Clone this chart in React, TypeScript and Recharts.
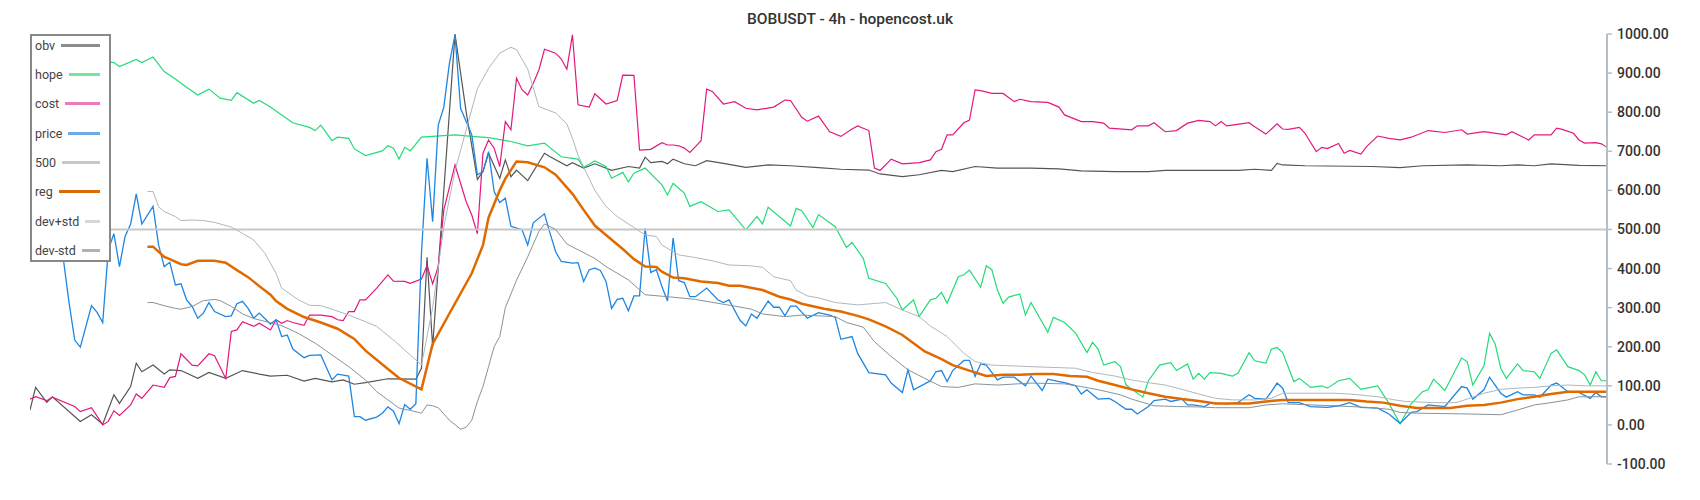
import React from "react";
import { LineChart, Line, XAxis, YAxis } from "recharts";

// each series: [candle index, value]
const obvPoints: [number, number][] = [
  [0, 38], [1, 96], [3, 58], [4, 72], [9, 9], [11, 26], [13, 2], [15, 77], [16, 55], [18, 98],
  [19, 158], [20, 136], [22, 153], [24, 130], [25, 141], [27, 139], [30, 119], [32, 134], [35, 119],
  [38, 139], [41, 130], [43, 125], [46, 127], [49, 112], [51, 119], [54, 110], [56, 115], [58, 104],
  [60, 108], [64, 118], [69, 117], [70, 145], [71, 429], [72, 200], [76, 1000], [78, 800], [80, 628],
  [81, 648], [82, 695], [84, 631], [85, 678], [86, 635], [87, 652], [89, 625], [92, 695], [93, 686],
  [96, 663], [97, 671], [99, 657], [101, 668], [104, 651], [107, 661], [109, 657], [110, 685],
  [111, 671], [113, 674], [114, 668], [115, 680], [117, 668], [119, 663], [121, 676], [124, 669],
  [128, 659], [132, 665], [136, 663], [141, 658], [145, 654], [150, 652], [152, 642], [156, 635],
  [159, 640], [163, 651], [165, 648], [169, 661], [173, 657], [179, 657], [184, 655], [188, 650],
  [194, 648], [200, 648], [203, 651], [209, 651], [216, 651], [219, 654], [222, 651], [223, 669],
  [224, 665], [228, 663], [240, 661], [245, 658], [249, 663], [257, 665], [263, 663], [266, 665],
  [269, 663], [272, 668], [277, 664], [282, 663],
];

const hopePoints: [number, number][] = [
  [0, 930], [5, 925], [10, 935], [15, 927], [16, 917], [19, 935], [20, 927], [22, 941], [24, 904],
  [26, 885], [28, 864], [30, 844], [32, 859], [34, 836], [36, 830], [37, 850], [40, 823], [41, 830],
  [43, 813], [45, 793], [47, 773], [50, 761], [51, 753], [52, 767], [54, 727], [55, 736], [57, 733],
  [58, 706], [60, 689], [63, 701], [64, 714], [65, 708], [66, 680], [67, 710], [68, 701], [70, 736],
  [72, 738], [76, 742], [79, 738], [82, 735], [86, 725], [89, 714], [92, 721], [95, 686], [98, 680],
  [99, 659], [101, 675], [103, 661], [104, 631], [106, 646], [107, 622], [108, 644], [110, 657],
  [113, 614], [114, 588], [115, 618], [117, 593], [118, 559], [120, 571], [123, 546], [125, 550],
  [128, 499], [130, 533], [131, 514], [132, 557], [136, 509], [137, 554], [138, 548], [140, 505],
  [141, 538], [144, 507], [146, 454], [147, 467], [149, 426], [150, 375], [153, 362], [155, 324],
  [156, 294], [158, 320], [159, 277], [161, 320], [162, 324], [163, 339], [164, 311], [166, 379],
  [167, 384], [168, 396], [170, 352], [171, 407], [172, 397], [173, 345], [174, 311], [175, 327],
  [177, 335], [178, 281], [179, 313], [182, 237], [183, 275], [185, 262], [187, 234], [189, 185],
  [190, 211], [191, 194], [192, 153], [194, 162], [195, 149], [196, 102], [199, 71], [200, 113],
  [202, 153], [204, 159], [205, 139], [207, 156], [208, 117], [209, 132], [210, 117], [211, 134],
  [213, 132], [215, 125], [216, 132], [218, 185], [219, 164], [221, 158], [222, 194], [223, 198],
  [224, 185], [226, 111], [227, 119], [229, 96], [231, 100], [232, 94], [234, 113], [236, 119],
  [238, 91], [241, 100], [243, 55], [245, 3], [247, 54], [249, 85], [250, 90], [251, 117], [253, 88],
  [256, 171], [257, 162], [258, 102], [260, 151], [261, 234], [262, 207], [263, 145], [264, 119],
  [266, 156], [267, 139], [269, 136], [270, 119], [272, 183], [273, 192], [275, 149], [277, 139],
  [278, 128], [279, 102], [280, 136], [281, 113], [282, 113],
];

const costPoints: [number, number][] = [
  [0, 66], [1, 72], [3, 62], [4, 71], [8, 47], [9, 34], [11, 44], [13, 0], [14, 9], [15, 36], [16, 24],
  [18, 51], [19, 79], [20, 68], [22, 102], [24, 96], [25, 121], [26, 124], [27, 182], [29, 153],
  [30, 151], [32, 182], [33, 177], [35, 119], [36, 239], [37, 243], [38, 264], [40, 252], [41, 260],
  [43, 243], [44, 269], [45, 260], [46, 267], [47, 262], [49, 255], [50, 281], [52, 281], [54, 277],
  [55, 269], [56, 267], [57, 290], [58, 290], [59, 320], [60, 320], [62, 350], [64, 384], [65, 368],
  [67, 367], [68, 362], [70, 373], [71, 408], [72, 361], [73, 405], [74, 550], [76, 665], [78, 571],
  [79, 537], [80, 489], [81, 695], [82, 729], [83, 708], [84, 661], [85, 776], [86, 755], [87, 887],
  [88, 857], [89, 844], [90, 874], [91, 908], [92, 961], [94, 951], [95, 936], [96, 910], [97, 998],
  [98, 819], [100, 813], [101, 847], [103, 821], [105, 830], [106, 895], [108, 894], [109, 703],
  [111, 705], [113, 722], [114, 716], [115, 716], [116, 714], [117, 708], [118, 697], [119, 712],
  [120, 727], [121, 859], [122, 853], [124, 821], [126, 827], [128, 810], [130, 806], [133, 813],
  [135, 831], [136, 830], [138, 787], [139, 777], [141, 790], [143, 750], [145, 738], [147, 757],
  [148, 765], [150, 753], [151, 657], [152, 651], [154, 680], [156, 668], [159, 671], [161, 678],
  [162, 699], [163, 705], [164, 742], [165, 742], [167, 773], [168, 780], [169, 857], [170, 855],
  [172, 848], [174, 848], [176, 827], [177, 833], [179, 827], [182, 825], [184, 813], [185, 793],
  [188, 776], [190, 776], [192, 772], [193, 759], [197, 755], [198, 765], [200, 765], [201, 773],
  [203, 750], [205, 753], [207, 772], [209, 779], [211, 776], [212, 765], [213, 776], [214, 765],
  [215, 767], [218, 773], [219, 763], [221, 744], [223, 770], [224, 757], [225, 756], [227, 761],
  [228, 746], [230, 699], [231, 710], [232, 707], [234, 720], [235, 695], [236, 702], [238, 693],
  [239, 712], [241, 739], [243, 733], [245, 729], [247, 736], [250, 753], [253, 748], [256, 755],
  [257, 744], [260, 750], [264, 742], [265, 750], [268, 729], [269, 742], [272, 742], [273, 759],
  [274, 756], [276, 746], [277, 729], [278, 721], [280, 722], [281, 719], [282, 710],
];

const pricePoints: [number, number][] = [
  [0, 540], [3, 520], [6, 420], [7, 311], [8, 217], [9, 199], [11, 305], [12, 288], [13, 262],
  [14, 448], [15, 489], [16, 405], [17, 482], [18, 514], [19, 591], [20, 514], [22, 559], [23, 460],
  [24, 405], [25, 416], [26, 358], [27, 361], [28, 320], [29, 303], [30, 273], [31, 286], [32, 313],
  [33, 290], [35, 277], [36, 279], [37, 310], [38, 316], [39, 298], [40, 273], [41, 286], [43, 258],
  [44, 269], [45, 226], [46, 230], [47, 194], [49, 172], [50, 178], [52, 179], [54, 115], [55, 130],
  [57, 125], [58, 21], [59, 21], [60, 12], [62, 20], [63, 30], [64, 46], [65, 35], [66, 3], [67, 52],
  [68, 40], [69, 54], [70, 439], [71, 682], [72, 520], [73, 767], [74, 813], [75, 925], [76, 998],
  [77, 810], [79, 742], [80, 640], [81, 648], [82, 699], [83, 597], [84, 569], [85, 580], [86, 508],
  [88, 499], [89, 460], [90, 517], [92, 540], [93, 490], [94, 443], [95, 418], [97, 414], [98, 415],
  [99, 367], [100, 397], [101, 401], [102, 395], [103, 367], [104, 298], [105, 321], [106, 324],
  [107, 292], [108, 330], [109, 330], [110, 503], [111, 390], [112, 397], [113, 354], [114, 317],
  [115, 478], [116, 369], [117, 364], [118, 328], [119, 328], [121, 350], [123, 320], [124, 313],
  [125, 320], [127, 267], [128, 253], [129, 284], [130, 273], [132, 317], [133, 301], [134, 301],
  [135, 279], [136, 304], [137, 304], [139, 273], [141, 287], [143, 281], [144, 275], [145, 219],
  [147, 226], [148, 183], [150, 134], [153, 128], [154, 107], [156, 83], [157, 141], [158, 90],
  [160, 105], [161, 113], [162, 136], [163, 139], [164, 111], [165, 139], [167, 165], [168, 165],
  [169, 124], [170, 156], [171, 153], [173, 115], [174, 122], [176, 122], [178, 100], [179, 125],
  [181, 88], [182, 117], [184, 111], [185, 108], [187, 100], [188, 79], [189, 90], [191, 66],
  [193, 68], [194, 60], [196, 40], [197, 40], [198, 28], [200, 47], [201, 62], [203, 66], [204, 60],
  [206, 66], [207, 51], [208, 51], [210, 47], [211, 55], [212, 55], [214, 54], [216, 57], [218, 77],
  [219, 68], [221, 66], [222, 85], [223, 107], [224, 94], [225, 57], [227, 57], [229, 47], [232, 45],
  [234, 49], [236, 57], [238, 45], [241, 43], [243, 28], [245, 4], [247, 32], [248, 34], [250, 51],
  [253, 47], [256, 98], [257, 94], [258, 66], [260, 90], [261, 122], [263, 81], [264, 71], [266, 85],
  [267, 77], [269, 77], [270, 71], [272, 102], [273, 107], [275, 85], [277, 83], [279, 68], [280, 83],
  [281, 72], [282, 72],
];

const levelPoints: [number, number][] = [[0, 500], [282, 500]];

const regPoints: [number, number][] = [
  [21, 456], [22, 456], [24, 430], [25, 424], [27, 411], [28, 409], [30, 420], [33, 420], [35, 415],
  [37, 396], [39, 378], [41, 355], [43, 333], [44, 317], [46, 297], [49, 276], [52, 262], [55, 246],
  [58, 220], [60, 190], [64, 143], [66, 120], [70, 91], [72, 207], [75, 285], [79, 388], [81, 460],
  [82, 530], [84, 600], [85, 630], [87, 674], [89, 672], [92, 659], [94, 640], [97, 591], [99, 550],
  [101, 510], [103, 486], [106, 450], [108, 424], [110, 405], [112, 404], [113, 392], [115, 377],
  [117, 375], [120, 367], [123, 363], [125, 356], [127, 356], [131, 345], [134, 328], [136, 321],
  [138, 310], [142, 297], [145, 290], [148, 279], [150, 270], [153, 252], [156, 230], [158, 209],
  [160, 188], [163, 168], [165, 153], [168, 139], [171, 125], [174, 128], [177, 128], [180, 130],
  [183, 130], [186, 125], [189, 123], [191, 113], [194, 102], [197, 91], [200, 81], [203, 72],
  [206, 66], [209, 61], [212, 55], [215, 55], [218, 55], [221, 60], [224, 64], [227, 64], [233, 64],
  [236, 64], [239, 60], [242, 57], [245, 49], [248, 43], [251, 43], [254, 43], [257, 49], [260, 51],
  [263, 57], [266, 66], [269, 72], [272, 79], [275, 85], [278, 85], [282, 85],
];

const devPlusPoints: [number, number][] = [
  [21, 597], [22, 597], [23, 558], [24, 546], [26, 533], [27, 523], [29, 524], [31, 523], [33, 518],
  [36, 506], [38, 490], [40, 473], [42, 439], [44, 388], [45, 350], [48, 320], [50, 306], [52, 305],
  [54, 296], [57, 281], [60, 264], [62, 252], [65, 217], [68, 179], [70, 153], [72, 300], [74, 507],
  [76, 650], [78, 755], [80, 860], [82, 912], [84, 951], [86, 966], [87, 960], [89, 910], [91, 814],
  [94, 798], [96, 770], [97, 733], [98, 690], [101, 600], [103, 559], [105, 533], [108, 505],
  [110, 486], [112, 482], [113, 460], [116, 435], [119, 428], [122, 420], [125, 409], [129, 407],
  [131, 403], [133, 379], [136, 369], [137, 345], [139, 330], [141, 325], [144, 313], [148, 307],
  [153, 313], [156, 294], [159, 277], [161, 253], [164, 226], [167, 183], [169, 162], [172, 153],
  [179, 149], [187, 145], [190, 134], [194, 125], [197, 115], [200, 108], [203, 102], [206, 91],
  [209, 79], [212, 68], [215, 64], [219, 64], [222, 68], [224, 81], [233, 81], [236, 79], [241, 72],
  [244, 64], [246, 60], [251, 57], [255, 57], [257, 66], [260, 81], [263, 91], [266, 94], [269, 96],
  [272, 100], [275, 102], [278, 100], [282, 100],
];

const devMinusPoints: [number, number][] = [
  [21, 313], [22, 313], [24, 305], [26, 298], [27, 296], [29, 303], [31, 318], [33, 321], [34, 318],
  [36, 303], [38, 284], [40, 272], [42, 265], [45, 254], [48, 234], [51, 209], [54, 179], [57, 149],
  [60, 115], [62, 85], [64, 64], [66, 43], [68, 37], [70, 30], [71, 51], [72, 49], [73, 44], [75, 12],
  [77, -11], [78, -6], [79, 12], [80, 60], [81, 98], [82, 149], [83, 200], [84, 226], [85, 300],
  [87, 370], [89, 430], [91, 495], [92, 514], [94, 500], [96, 463], [98, 448], [101, 426], [103, 405],
  [107, 371], [110, 333], [114, 328], [119, 321], [123, 311], [126, 304], [129, 296], [131, 284],
  [135, 277], [138, 281], [144, 277], [146, 262], [149, 250], [151, 213], [154, 175], [157, 141],
  [160, 119], [163, 98], [166, 96], [169, 105], [173, 102], [179, 107], [185, 105], [188, 98],
  [191, 90], [195, 77], [197, 66], [201, 49], [205, 47], [209, 46], [212, 44], [218, 44], [221, 51],
  [224, 54], [233, 49], [239, 45], [243, 40], [245, 32], [248, 30], [257, 28], [263, 26], [266, 38],
  [269, 51], [272, 57], [275, 64], [277, 72], [282, 72],
];

const yTicks = [-100, 0, 100, 200, 300, 400, 500, 600, 700, 800, 900, 1000];

const toRows = (pts: [number, number][]) => pts.map(([i, v]) => ({ i, v }));

// legend order matches draw order
const series = [
  { name: "obv", points: obvPoints, color: "#555555", key: "#8c8c8c", width: 1.2 },
  { name: "hope", points: hopePoints, color: "#22dc78", key: "#72e89e", width: 1.2 },
  { name: "cost", points: costPoints, color: "#e3187f", key: "#ec7bbd", width: 1.2 },
  { name: "price", points: pricePoints, color: "#1e86e3", key: "#6eaae8", width: 1.3 },
  { name: "500", points: levelPoints, color: "#c8c8c8", key: "#c8c8c8", width: 2 },
  { name: "reg", points: regPoints, color: "#e06a00", key: "#d9690a", width: 2.5 },
  { name: "dev+std", points: devPlusPoints, color: "#aeb7bf", key: "#d3d8dc", width: 1 },
  { name: "dev-std", points: devMinusPoints, color: "#87939c", key: "#aab3ba", width: 1 },
];

const font = "Roboto, 'Noto Sans', sans-serif";

function ChartLegend() {
  return (
    <div
      style={{
        position: "absolute",
        left: 30,
        top: 34,
        width: 81,
        boxSizing: "border-box",
        border: "2px solid #888",
        background: "#fff",
        padding: "0 9px 0 3px",
        fontFamily: font,
        fontSize: 12.5,
        color: "#444",
      }}
    >
      {series.map((s, idx) => (
        <div
          key={s.name}
          style={{
            display: "flex",
            alignItems: "center",
            height: 18,
            marginTop: idx === 0 ? 0 : 11.4,
          }}
        >
          <span style={{ whiteSpace: "nowrap" }}>{s.name}</span>
          <span style={{ flex: 1, height: 3, marginLeft: 6, background: s.key }} />
        </div>
      ))}
    </div>
  );
}

export default function App() {
  return (
    <div style={{ position: "absolute", left: 0, top: 0, width: 1700, height: 500, background: "#fff" }}>
      <div
        style={{
          position: "absolute",
          left: 0,
          width: 1700,
          top: 10,
          textAlign: "center",
          fontFamily: font,
          fontSize: 15.5,
          fontWeight: 500,
          color: "#333",
        }}
      >
        BOBUSDT - 4h - hopencost.uk
      </div>
      <LineChart width={1700} height={500} margin={{ top: 34, right: 13, bottom: 36, left: 30 }}>
        <XAxis type="number" dataKey="i" domain={[0, 282]} hide allowDataOverflow />
        <YAxis
          orientation="right"
          type="number"
          domain={[-100, 1000]}
          ticks={yTicks}
          width={80}
          tickFormatter={(v: number) => v.toFixed(2)}
          axisLine={{ stroke: "#b3bec6", strokeWidth: 2 }}
          tickLine={{ stroke: "#b3bec6", strokeWidth: 1.5 }}
          tickSize={5}
          tickMargin={5}
          tick={{ fill: "#333", fontSize: 14, fontWeight: 500, fontFamily: font }}
          allowDataOverflow
        />
        {series.map((s) => (
          <Line
            key={s.name}
            data={toRows(s.points)}
            dataKey="v"
            name={s.name}
            type="linear"
            stroke={s.color}
            strokeWidth={s.width}
            dot={false}
            activeDot={false}
            isAnimationActive={false}
          />
        ))}
      </LineChart>
      <ChartLegend />
    </div>
  );
}
